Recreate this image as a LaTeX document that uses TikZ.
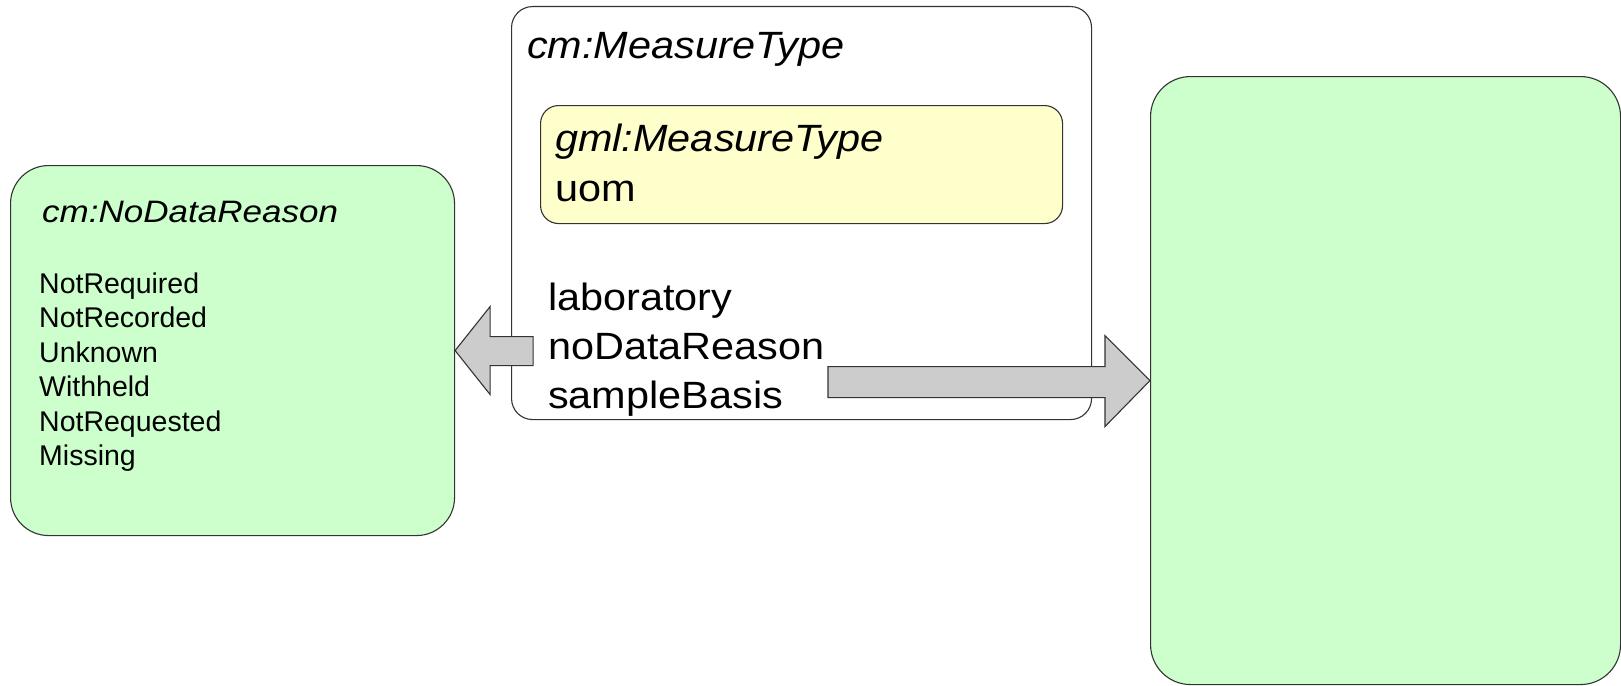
\documentclass[tikz,border=0pt]{standalone}
\usepackage{fontspec}
\setmainfont{Liberation Sans}
\usetikzlibrary{calc}
\definecolor{enumgreen}{HTML}{CCFFCC}
\definecolor{basetype}{HTML}{FFFFCC}
\definecolor{arrowgrey}{HTML}{CCCCCC}
\definecolor{edgegrey}{HTML}{333333}
\tikzset{
  box/.style={draw=edgegrey, line width=1.1pt, inner sep=0pt, rectangle},
  enumbox/.style={box, fill=enumgreen, rounded corners=38pt},
  typebox/.style={box, fill=white, rounded corners=21pt},
  basebox/.style={box, fill=basetype, rounded corners=18pt},
  bigarrow/.style={draw=edgegrey, line width=1.1pt, fill=arrowgrey, line join=miter},
  txt/.style={anchor=base west, inner sep=0pt},
  bigtxt/.style={txt, font=\fontsize{38}{45}\selectfont},
  listtxt/.style={txt, font=\fontsize{28.5}{34}\selectfont},
}
\newcommand{\wide}[2][1.09]{\scalebox{#1}[1]{#2}}
\begin{document}
\begin{tikzpicture}[x=1pt, y=-1pt]
\useasboundingbox (0,0) rectangle (1621,685);

% code list of reasons for missing data
\node[enumbox, anchor=north west, minimum width=444pt, minimum height=370pt] (nodata) at (10,165) {};
\node[txt, font=\fontsize{31}{37}\selectfont\itshape] (nodatatitle) at (42,222) {\wide[1.13]{cm:NoDataReason}};
\node[listtxt] (r1) at (39,293) {NotRequired};
\node[listtxt] (r2) at (39,327.5) {NotRecorded};
\node[listtxt] (r3) at (39,362) {Unknown};
\node[listtxt] (r4) at (39,396.5) {Withheld};
\node[listtxt] (r5) at (39,431) {NotRequested};
\node[listtxt] (r6) at (39,465.5) {Missing};

% extended measure type
\node[typebox, anchor=north west, minimum width=580pt, minimum height=413pt] (measure) at (511,6) {};
\node[bigtxt, font=\fontsize{38}{45}\selectfont\itshape] (measuretitle) at (527,59) {\wide{cm:MeasureType}};

% base GML measure type
\node[basebox, anchor=north west, minimum width=522pt, minimum height=118pt] (gml) at (540,105) {};
\node[bigtxt, font=\fontsize{38}{45}\selectfont\itshape] (gmltitle) at (555,151) {\wide{gml:MeasureType}};
\node[bigtxt] (uom) at (555,201) {\wide{uom}};

% added attributes
\node[bigtxt] (lab) at (548,310) {\wide{laboratory}};
\node[bigtxt] (ndr) at (548,359) {\wide{noDataReason}};
\node[bigtxt] (basis) at (548,408) {\wide{sampleBasis}};

% target of the sampleBasis attribute
\node[enumbox, rounded corners=40pt, anchor=north west, minimum width=470pt, minimum height=608pt] (basisbox) at (1150,76) {};

% block arrows
\draw[bigarrow] (nodata.east) -- ++(35,-44) -- ++(0,30) -- ++(43,0) -- ++(0,29)
  -- ++(-43,0) -- ++(0,29) -- cycle;
\draw[bigarrow] (basisbox.west) -- ++(-45,-45) -- ++(0,31) -- ++(-277,0) -- ++(0,31)
  -- ++(277,0) -- ++(0,29) -- cycle;
\end{tikzpicture}
\end{document}
